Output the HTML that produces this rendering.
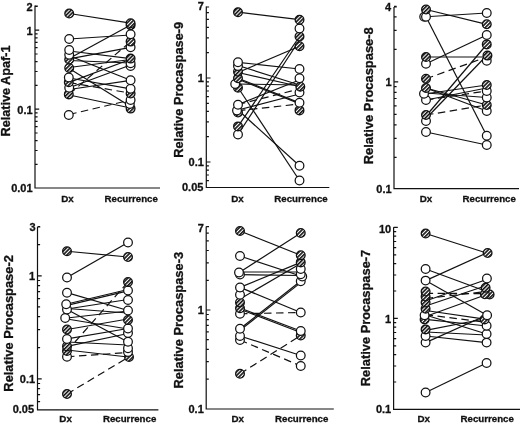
<!DOCTYPE html>
<html><head><meta charset="utf-8"><title>Figure</title>
<style>
html,body{margin:0;padding:0;background:#fff;}
svg{display:block;}
text{font-family:"Liberation Sans",sans-serif;font-weight:bold;fill:#111;stroke:#111;stroke-width:0.3px;}
.tk{font-size:11px;text-anchor:end;}
.xl{font-size:9.8px;text-anchor:middle;}
.yl{font-size:12.8px;text-anchor:middle;}
.ax{stroke:#111;stroke-width:1.2;fill:none;}
.ln{stroke:#111;stroke-width:1.2;fill:none;}
.dl{stroke:#111;stroke-width:1.2;fill:none;stroke-dasharray:7.5 4.5;}
.o{fill:#fff;stroke:#111;stroke-width:1.25;}
.h{fill:url(#hat);stroke:#111;stroke-width:1.3;}
</style></head><body>
<svg width="520" height="424" viewBox="0 0 520 424">
<defs><pattern id="hat" width="2.7" height="2.7" patternUnits="userSpaceOnUse" patternTransform="rotate(-45)"><rect width="2.7" height="2.7" fill="#fff"/><rect width="2.7" height="1.6" fill="#111"/></pattern></defs>
<rect width="520" height="424" fill="#fff"/>

<g>
<path class="ax" d="M35 5.5V188H160"/>
<path class="ax" d="M35 164.4h2.6M35 150.5h2.6M35 140.6h2.6M35 133.0h2.6M35 126.7h2.6M35 121.4h2.6M35 116.9h2.6M35 112.8h2.6M35 109.2h4.2M35 85.4h2.6M35 71.5h2.6M35 61.6h2.6M35 54.0h2.6M35 47.7h2.6M35 42.4h2.6M35 37.9h2.6M35 33.8h2.6M35 30.2h4.2M35 6.4h2.6M35 6.2h2.8"/>
<text class="tk" x="32.6" y="10.6">2</text>
<text class="tk" x="32.6" y="34.6">1</text>
<text class="tk" x="32.6" y="113.6">0.1</text>
<text class="tk" x="32.6" y="192.4">0.01</text>
<text class="yl" transform="translate(10,91) rotate(-90)" textLength="91" lengthAdjust="spacingAndGlyphs">Relative Apaf-1</text>
<text class="xl" x="67.5" y="201.5">Dx</text>
<text class="xl" x="131.2" y="201.5" textLength="53.4" lengthAdjust="spacingAndGlyphs">Recurrence</text>
<path class="ln" d="M69.2 13.5L130.6 23.2"/>
<path class="ln" d="M69.2 39L130.6 35"/>
<path class="ln" d="M69.2 58.5L130.6 25"/>
<path class="ln" d="M69.2 51L130.6 58.6"/>
<path class="ln" d="M69.2 55.8L130.6 80.3"/>
<path class="ln" d="M69.2 58.8L130.6 47.3"/>
<path class="ln" d="M69.2 60.5L130.6 63"/>
<path class="ln" d="M69.2 68.5L130.6 106.5"/>
<path class="ln" d="M69.2 78L130.6 88.8"/>
<path class="dl" d="M69.2 82.5L130.6 93.2"/>
<path class="ln" d="M69.2 87.8L130.6 65"/>
<path class="ln" d="M69.2 89.5L130.6 80.3"/>
<path class="ln" d="M69.2 95L130.6 108"/>
<path class="ln" d="M69.2 82.4L130.6 59.2"/>
<path class="dl" d="M69.2 94.2L130.6 41.6"/>
<path class="dl" d="M69.2 114.5L130.6 100"/>
<path class="ln" d="M69.2 67.5L130.6 59.5"/>
<circle class="o" cx="68.8" cy="115" r="4.35"/>
<circle class="h" cx="68.8" cy="94.4" r="4.35"/>
<circle class="o" cx="69.2" cy="87.8" r="4.35"/>
<circle class="h" cx="68.8" cy="82.2" r="4.35"/>
<circle class="o" cx="68.8" cy="77.5" r="4.35"/>
<circle class="h" cx="69.2" cy="68" r="4.35"/>
<circle class="h" cx="69.2" cy="59.5" r="4.35"/>
<circle class="o" cx="69.2" cy="54.8" r="4.35"/>
<circle class="o" cx="69.2" cy="50" r="4.35"/>
<circle class="o" cx="69.2" cy="38.9" r="4.35"/>
<circle class="h" cx="69.2" cy="13.5" r="4.35"/>
<circle class="h" cx="130.6" cy="108.6" r="4.35"/>
<circle class="o" cx="129.79999999999998" cy="103.9" r="4.35"/>
<circle class="o" cx="130.6" cy="100" r="4.35"/>
<circle class="h" cx="130.6" cy="93.5" r="4.35"/>
<circle class="o" cx="130.6" cy="88.8" r="4.35"/>
<circle class="o" cx="130.6" cy="80.3" r="4.35"/>
<circle class="o" cx="130.6" cy="66" r="4.35"/>
<circle class="o" cx="130.6" cy="63.3" r="4.35"/>
<circle class="h" cx="130.6" cy="58.6" r="4.35"/>
<circle class="o" cx="130.6" cy="47.3" r="4.35"/>
<circle class="h" cx="130.6" cy="41.6" r="4.35"/>
<circle class="o" cx="130.6" cy="34.2" r="4.35"/>
<circle class="h" cx="130.6" cy="25.3" r="4.35"/>
<circle class="h" cx="130.6" cy="23.3" r="4.35"/>
</g>
<g>
<path class="ax" d="M206.3 6.5V187.5H329.3"/>
<path class="ax" d="M206.3 180.6h2.6M206.3 175.0h2.6M206.3 170.1h2.6M206.3 165.8h2.6M206.3 162.0h4.2M206.3 136.7h2.6M206.3 121.9h2.6M206.3 111.4h2.6M206.3 103.3h2.6M206.3 96.6h2.6M206.3 91.0h2.6M206.3 86.1h2.6M206.3 81.8h2.6M206.3 78.0h4.2M206.3 52.7h2.6M206.3 37.9h2.6M206.3 27.4h2.6M206.3 19.3h2.6M206.3 12.6h2.6M206.3 7.0h2.6M206.3 7.0h2.8"/>
<text class="tk" x="203.9" y="10.4">7</text>
<text class="tk" x="203.9" y="82.4">1</text>
<text class="tk" x="203.9" y="166.4">0.1</text>
<text class="tk" x="203.4" y="190.9">0.05</text>
<text class="yl" transform="translate(182.7,89.8) rotate(-90)" textLength="136" lengthAdjust="spacingAndGlyphs">Relative Procaspase-9</text>
<text class="xl" x="237.4" y="201.5">Dx</text>
<text class="xl" x="301" y="201.5" textLength="53.4" lengthAdjust="spacingAndGlyphs">Recurrence</text>
<path class="ln" d="M238 12.2L299.5 19.7"/>
<path class="ln" d="M238 72.5L299.5 46.3"/>
<path class="ln" d="M238 126.4L299.5 36.5"/>
<path class="ln" d="M238 134.5L299.5 40"/>
<path class="ln" d="M238 62.3L299.5 69"/>
<path class="ln" d="M238 65.5L299.5 85"/>
<path class="ln" d="M238 72.5L299.5 86.5"/>
<path class="ln" d="M238 87.5L299.5 180.5"/>
<path class="ln" d="M238 110L299.5 165.75"/>
<path class="ln" d="M238 84L299.5 85"/>
<path class="ln" d="M238 78.3L299.5 102.8"/>
<path class="ln" d="M238 79.3L299.5 103.6"/>
<path class="ln" d="M238 104.5L299.5 80"/>
<path class="ln" d="M238 110L299.5 94"/>
<path class="dl" d="M238 104.5L299.5 89"/>
<path class="dl" d="M238 110.7L299.5 104"/>
<circle class="o" cx="238" cy="134.5" r="4.35"/>
<circle class="h" cx="238" cy="126.4" r="4.35"/>
<circle class="h" cx="238" cy="112.5" r="4.35"/>
<circle class="o" cx="237" cy="110.4" r="4.35"/>
<circle class="o" cx="238" cy="104.7" r="4.35"/>
<circle class="h" cx="238" cy="87.7" r="4.35"/>
<circle class="o" cx="235.2" cy="84" r="4.35"/>
<circle class="h" cx="238" cy="78.3" r="4.35"/>
<circle class="h" cx="238" cy="71.7" r="4.35"/>
<circle class="o" cx="238" cy="66" r="4.35"/>
<circle class="o" cx="238" cy="62.3" r="4.35"/>
<circle class="h" cx="238" cy="12.2" r="4.35"/>
<circle class="o" cx="299.5" cy="180.5" r="4.35"/>
<circle class="o" cx="299.5" cy="165.75" r="4.35"/>
<circle class="h" cx="299.5" cy="110.4" r="4.35"/>
<circle class="o" cx="299.5" cy="102.8" r="4.35"/>
<circle class="o" cx="299.5" cy="92.5" r="4.35"/>
<circle class="h" cx="300.3" cy="86.8" r="4.35"/>
<circle class="o" cx="299.5" cy="78.3" r="4.35"/>
<circle class="o" cx="299.5" cy="68.9" r="4.35"/>
<circle class="h" cx="299.5" cy="46.3" r="4.35"/>
<circle class="h" cx="299.5" cy="36.5" r="4.35"/>
<circle class="o" cx="299.5" cy="28.4" r="4.35"/>
<circle class="h" cx="299.5" cy="19.7" r="4.35"/>
</g>
<g>
<path class="ax" d="M394 6.9V188.6H519"/>
<path class="ax" d="M394 157.3h2.6M394 138.3h2.6M394 124.8h2.6M394 114.3h2.6M394 105.8h2.6M394 98.5h2.6M394 92.3h2.6M394 86.7h2.6M394 81.8h4.2M394 49.3h2.6M394 30.3h2.6M394 16.8h2.6M394 6.3h2.6M394 7.0h2.8"/>
<text class="tk" x="391.0" y="10.8">4</text>
<text class="tk" x="391.6" y="86.2">1</text>
<text class="tk" x="391.6" y="193.4">0.1</text>
<text class="yl" transform="translate(372.6,95.75) rotate(-90)" textLength="137" lengthAdjust="spacingAndGlyphs">Relative Procaspase-8</text>
<text class="xl" x="426" y="201.5">Dx</text>
<text class="xl" x="489.2" y="201.5" textLength="53.4" lengthAdjust="spacingAndGlyphs">Recurrence</text>
<path class="ln" d="M426 9.5L486.75 24.3"/>
<path class="ln" d="M426 16.75L486.75 13"/>
<path class="ln" d="M426 16.75L486.75 135.75"/>
<path class="ln" d="M426 63.75L486.75 35"/>
<path class="ln" d="M426 57L486.75 57"/>
<path class="dl" d="M426 78.75L486.75 57"/>
<path class="ln" d="M426 116L486.75 44.5"/>
<path class="ln" d="M426 118.5L486.75 55.5"/>
<path class="ln" d="M426 132L486.75 145"/>
<path class="ln" d="M426 88L486.75 105"/>
<path class="ln" d="M426 88L486.75 111"/>
<path class="ln" d="M426 93.75L486.75 85"/>
<path class="ln" d="M426 100L486.75 88"/>
<path class="ln" d="M426 93L486.75 97.5"/>
<path class="dl" d="M426 100L486.75 91"/>
<path class="dl" d="M426 115L486.75 105"/>
<circle class="o" cx="426" cy="132" r="4.35"/>
<circle class="o" cx="426" cy="121" r="4.35"/>
<circle class="h" cx="426" cy="115" r="4.35"/>
<circle class="o" cx="426" cy="100" r="4.35"/>
<circle class="o" cx="424" cy="93.75" r="4.35"/>
<circle class="h" cx="426" cy="88" r="4.35"/>
<circle class="h" cx="426" cy="78.75" r="4.35"/>
<circle class="o" cx="426" cy="63.75" r="4.35"/>
<circle class="h" cx="426" cy="57" r="4.35"/>
<circle class="o" cx="424.2" cy="16.75" r="4.35"/>
<circle class="o" cx="426" cy="16.75" r="4.35"/>
<circle class="h" cx="426" cy="9.5" r="4.35"/>
<circle class="o" cx="486.75" cy="145" r="4.35"/>
<circle class="o" cx="486.75" cy="135.75" r="4.35"/>
<circle class="o" cx="486.75" cy="111" r="4.35"/>
<circle class="h" cx="486.75" cy="105" r="4.35"/>
<circle class="o" cx="486.75" cy="97.5" r="4.35"/>
<circle class="o" cx="486.75" cy="91" r="4.35"/>
<circle class="h" cx="486.75" cy="85" r="4.35"/>
<circle class="o" cx="486.75" cy="60.75" r="4.35"/>
<circle class="h" cx="487.45" cy="55.6" r="4.35"/>
<circle class="h" cx="486.75" cy="44.4" r="4.35"/>
<circle class="o" cx="486.75" cy="35" r="4.35"/>
<circle class="h" cx="486.75" cy="24.3" r="4.35"/>
<circle class="o" cx="486.75" cy="13" r="4.35"/>
</g>
<g>
<path class="ax" d="M37.5 227V409.8H158.4"/>
<path class="ax" d="M37.5 401.6h2.6M37.5 394.7h2.6M37.5 388.7h2.6M37.5 383.5h2.6M37.5 378.8h4.2M37.5 347.7h2.6M37.5 329.6h2.6M37.5 316.7h2.6M37.5 306.8h2.6M37.5 298.6h2.6M37.5 291.7h2.6M37.5 285.7h2.6M37.5 280.5h2.6M37.5 275.8h4.2M37.5 244.7h2.6M37.5 226.6h2.6M37.5 227.0h2.8"/>
<text class="tk" x="35.6" y="231.4">3</text>
<text class="tk" x="35.1" y="280.1">1</text>
<text class="tk" x="35.1" y="383.1">0.1</text>
<text class="tk" x="34.1" y="412.9">0.05</text>
<text class="yl" transform="translate(13.2,323.4) rotate(-90)" textLength="136.5" lengthAdjust="spacingAndGlyphs">Relative Procaspase-2</text>
<text class="xl" x="65.6" y="422.0">Dx</text>
<text class="xl" x="129.6" y="422.0" textLength="53.4" lengthAdjust="spacingAndGlyphs">Recurrence</text>
<path class="ln" d="M67 251.25L128 257"/>
<path class="ln" d="M67 277.5L128 242.5"/>
<path class="ln" d="M67 292.7L128 310.5"/>
<path class="ln" d="M67 304L128 289.5"/>
<path class="ln" d="M67 305.3L128 290.8"/>
<path class="ln" d="M67 309L128 299.5"/>
<path class="ln" d="M67 318L128 311"/>
<path class="ln" d="M67 319L128 329"/>
<path class="ln" d="M67 309.5L128 342"/>
<path class="ln" d="M67 329.5L128 319"/>
<path class="ln" d="M67 338.9L128 328.5"/>
<path class="ln" d="M67 346.4L128 333.5"/>
<path class="ln" d="M67 342L128 345"/>
<path class="ln" d="M67 350L128 357"/>
<path class="ln" d="M67 308.5L128 313"/>
<path class="dl" d="M67 351L128 282"/>
<path class="dl" d="M67 356.8L128 352.5"/>
<path class="dl" d="M67 394L128 357.5"/>
<circle class="h" cx="67" cy="394" r="4.35"/>
<circle class="o" cx="67" cy="356.8" r="4.35"/>
<circle class="h" cx="67" cy="351" r="4.35"/>
<circle class="h" cx="67" cy="346.4" r="4.35"/>
<circle class="o" cx="67" cy="338.9" r="4.35"/>
<circle class="h" cx="67" cy="329.5" r="4.35"/>
<circle class="o" cx="65.2" cy="318" r="4.35"/>
<circle class="o" cx="67" cy="309.5" r="4.35"/>
<circle class="o" cx="66.2" cy="304.2" r="4.35"/>
<circle class="o" cx="67" cy="292.7" r="4.35"/>
<circle class="o" cx="67" cy="277.5" r="4.35"/>
<circle class="h" cx="67" cy="251.25" r="4.35"/>
<circle class="h" cx="129" cy="357" r="4.35"/>
<circle class="o" cx="128" cy="352" r="4.35"/>
<circle class="o" cx="128" cy="348.3" r="4.35"/>
<circle class="o" cx="128" cy="341.7" r="4.35"/>
<circle class="o" cx="128" cy="333" r="4.35"/>
<circle class="o" cx="128" cy="328.5" r="4.35"/>
<circle class="h" cx="128" cy="320" r="4.35"/>
<circle class="o" cx="128" cy="310.5" r="4.35"/>
<circle class="o" cx="128" cy="300" r="4.35"/>
<circle class="o" cx="128" cy="290.5" r="4.35"/>
<circle class="h" cx="128" cy="282" r="4.35"/>
<circle class="h" cx="128" cy="257" r="4.35"/>
<circle class="o" cx="128" cy="242.5" r="4.35"/>
</g>
<g>
<path class="ax" d="M206.2 226.6V409H333.8"/>
<path class="ax" d="M206.2 379.1h2.6M206.2 361.7h2.6M206.2 349.3h2.6M206.2 339.7h2.6M206.2 331.9h2.6M206.2 325.3h2.6M206.2 319.6h2.6M206.2 314.5h2.6M206.2 310.0h4.2M206.2 280.3h2.6M206.2 262.9h2.6M206.2 250.5h2.6M206.2 240.9h2.6M206.2 233.1h2.6M206.2 226.5h2.6M206.2 226.6h2.8"/>
<text class="tk" x="203.8" y="232.0">7</text>
<text class="tk" x="203.8" y="314.4">1</text>
<text class="tk" x="203.8" y="413.4">0.1</text>
<text class="yl" transform="translate(182.5,320.2) rotate(-90)" textLength="136.6" lengthAdjust="spacingAndGlyphs">Relative Procaspase-3</text>
<text class="xl" x="237.8" y="421.8">Dx</text>
<text class="xl" x="301.7" y="421.8" textLength="53.4" lengthAdjust="spacingAndGlyphs">Recurrence</text>
<path class="ln" d="M240 231L300.75 255.3"/>
<path class="ln" d="M240 272L300.75 233"/>
<path class="ln" d="M240 256L300.75 276"/>
<path class="ln" d="M240 272L300.75 272"/>
<path class="ln" d="M240 274.7L300.75 275.5"/>
<path class="ln" d="M240 287.4L300.75 312.5"/>
<path class="ln" d="M240 287.4L300.75 262.4"/>
<path class="ln" d="M240 299L300.75 263.5"/>
<path class="ln" d="M240 328.75L300.75 281"/>
<path class="ln" d="M240 330.2L300.75 282.6"/>
<path class="ln" d="M240 308L300.75 331"/>
<path class="ln" d="M240 309.2L300.75 332.5"/>
<path class="ln" d="M240 336L300.75 355.5"/>
<path class="dl" d="M240 313.75L300.75 312.5"/>
<path class="dl" d="M240 340L300.75 366"/>
<path class="dl" d="M240 373.75L300.75 335.5"/>
<circle class="h" cx="240" cy="373.75" r="4.35"/>
<circle class="o" cx="240" cy="340" r="4.35"/>
<circle class="o" cx="240" cy="336" r="4.35"/>
<circle class="o" cx="240" cy="328.75" r="4.35"/>
<circle class="o" cx="240" cy="313.75" r="4.35"/>
<circle class="h" cx="240" cy="308.3" r="4.35"/>
<circle class="h" cx="240" cy="302.5" r="4.35"/>
<circle class="o" cx="240" cy="294.8" r="4.35"/>
<circle class="o" cx="240" cy="287.4" r="4.35"/>
<circle class="o" cx="240" cy="274.5" r="4.35"/>
<circle class="o" cx="239" cy="272.4" r="4.35"/>
<circle class="o" cx="240" cy="256" r="4.35"/>
<circle class="h" cx="240" cy="231" r="4.35"/>
<circle class="o" cx="300.75" cy="366" r="4.35"/>
<circle class="o" cx="300.75" cy="355.5" r="4.35"/>
<circle class="h" cx="300.75" cy="335.5" r="4.35"/>
<circle class="o" cx="300.75" cy="331" r="4.35"/>
<circle class="o" cx="300.75" cy="312.5" r="4.35"/>
<circle class="o" cx="300.75" cy="281.3" r="4.35"/>
<circle class="o" cx="302.25" cy="276.5" r="4.35"/>
<circle class="o" cx="300.75" cy="274.2" r="4.35"/>
<circle class="o" cx="300.75" cy="268.9" r="4.35"/>
<circle class="h" cx="300.75" cy="262.4" r="4.35"/>
<circle class="h" cx="300.75" cy="255.3" r="4.35"/>
<circle class="h" cx="300.75" cy="233" r="4.35"/>
</g>
<g>
<path class="ax" d="M393.6 227.3V409.4H520"/>
<path class="ax" d="M393.6 382.0h2.6M393.6 366.0h2.6M393.6 354.6h2.6M393.6 345.8h2.6M393.6 338.6h2.6M393.6 332.5h2.6M393.6 327.2h2.6M393.6 322.6h2.6M393.6 318.4h4.2M393.6 291.0h2.6M393.6 275.0h2.6M393.6 263.6h2.6M393.6 254.8h2.6M393.6 247.6h2.6M393.6 241.5h2.6M393.6 236.2h2.6M393.6 231.6h2.6M393.6 227.4h4.2M393.6 227.4h2.8"/>
<text class="tk" x="391.2" y="232.6">10</text>
<text class="tk" x="391.2" y="322.8">1</text>
<text class="tk" x="391.2" y="413.4">0.1</text>
<text class="yl" transform="translate(369.8,318) rotate(-90)" textLength="136.5" lengthAdjust="spacingAndGlyphs">Relative Procaspase-7</text>
<text class="xl" x="423.8" y="421.8">Dx</text>
<text class="xl" x="487.2" y="421.8" textLength="53.4" lengthAdjust="spacingAndGlyphs">Recurrence</text>
<path class="ln" d="M425.6 233.5L486.6 253"/>
<path class="ln" d="M425.6 280.6L486.6 253"/>
<path class="ln" d="M425.6 269L486.6 291.5"/>
<path class="ln" d="M425.6 280.6L486.6 315"/>
<path class="ln" d="M425.6 301L486.6 279.5"/>
<path class="ln" d="M425.6 306L486.6 285.5"/>
<path class="ln" d="M425.6 316.5L486.6 294.5"/>
<path class="dl" d="M425.6 293.3L486.6 293.6"/>
<path class="dl" d="M425.6 298.5L486.6 291.5"/>
<path class="ln" d="M425.6 392.5L486.6 363"/>
<path class="ln" d="M425.6 342.6L486.6 315.3"/>
<path class="ln" d="M425.6 336L486.6 342.6"/>
<path class="ln" d="M425.6 330.4L486.6 318.5"/>
<path class="ln" d="M425.6 315L486.6 334"/>
<path class="ln" d="M425.6 319.4L486.6 326"/>
<path class="dl" d="M425.6 314.7L486.6 322.3"/>
<path class="ln" d="M425.6 310.5L486.6 319.4"/>
<path class="ln" d="M425.6 332L486.6 335"/>
<circle class="o" cx="425.6" cy="392.5" r="4.35"/>
<circle class="o" cx="425.6" cy="342.6" r="4.35"/>
<circle class="o" cx="425.6" cy="336" r="4.35"/>
<circle class="h" cx="425.6" cy="329.4" r="4.35"/>
<circle class="h" cx="424.6" cy="319.4" r="4.35"/>
<circle class="o" cx="424.6" cy="315.3" r="4.35"/>
<circle class="h" cx="425.6" cy="308.7" r="4.35"/>
<circle class="h" cx="425.6" cy="302.5" r="4.35"/>
<circle class="h" cx="425.6" cy="296.5" r="4.35"/>
<circle class="h" cx="425.6" cy="291.5" r="4.35"/>
<circle class="o" cx="425.6" cy="280.6" r="4.35"/>
<circle class="o" cx="425.6" cy="269" r="4.35"/>
<circle class="h" cx="425.6" cy="233.5" r="4.35"/>
<circle class="o" cx="486.6" cy="363" r="4.35"/>
<circle class="o" cx="486.6" cy="342.6" r="4.35"/>
<circle class="o" cx="486.6" cy="334" r="4.35"/>
<circle class="o" cx="486.6" cy="325.7" r="4.35"/>
<circle class="h" cx="484.6" cy="319.4" r="4.35"/>
<circle class="o" cx="487.1" cy="315.3" r="4.35"/>
<circle class="h" cx="489.6" cy="294.5" r="4.35"/>
<circle class="h" cx="484.90000000000003" cy="294.2" r="4.35"/>
<circle class="h" cx="485.6" cy="287.8" r="4.35"/>
<circle class="o" cx="486.90000000000003" cy="278.5" r="4.35"/>
<circle class="h" cx="487.6" cy="253" r="4.35"/>
</g>
</svg></body></html>
